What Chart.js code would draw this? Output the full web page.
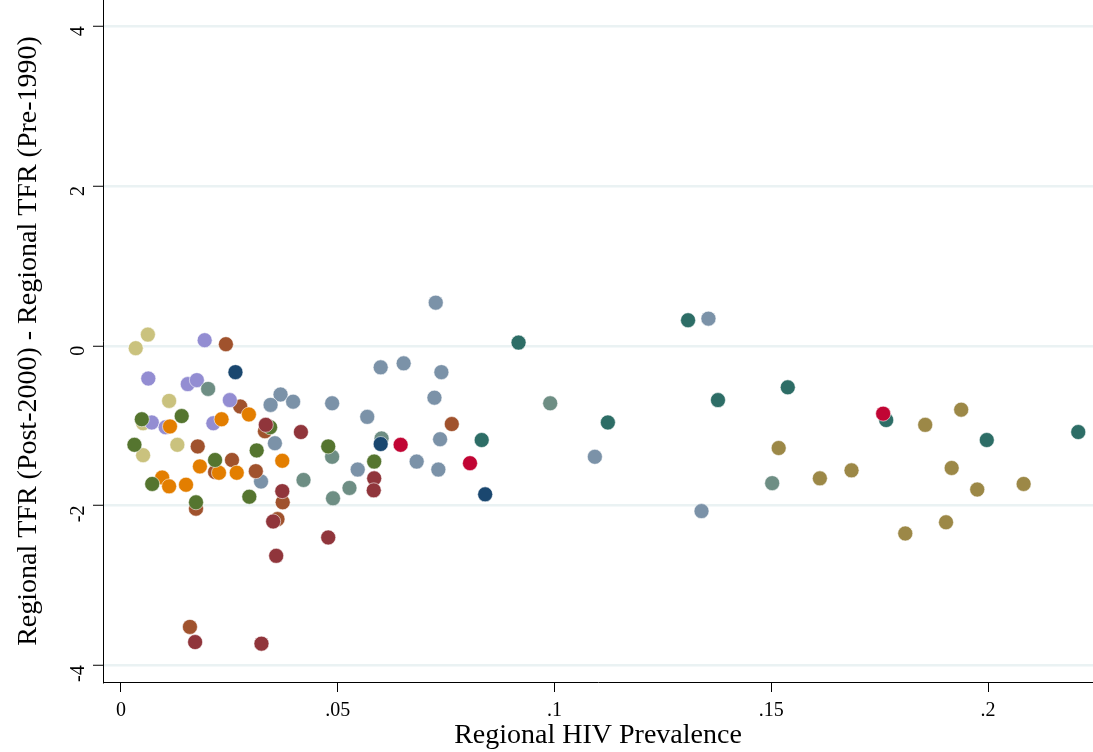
<!DOCTYPE html>
<html>
<head>
<meta charset="utf-8">
<script src="https://cdn.jsdelivr.net/npm/chart.js@4"></script>
<style>
  html, body { margin: 0; padding: 0; background: #fff; }
  #wrap { width: 1093px; height: 752px; }
</style>
</head>
<body>
<div id="wrap"><canvas id="hivChart"></canvas></div>
<script>
// tick labels
const xTicks = [0, 0.05, 0.1, 0.15, 0.2];
const xTickLabels = ['0', '.05', '.1', '.15', '.2'];
const yTicks = [-4, -2, 0, 2, 4];

// one array per country group: [HIV prevalence, TFR change]
const navy = [[0.0264, -0.33], [0.0599, -1.23], [0.0840, -1.86]];
const maroon = [[0.0334, -0.99], [0.0415, -1.08], [0.0478, -2.40], [0.0584, -1.66], [0.0583, -1.81],
  [0.0372, -1.82], [0.0351, -2.20], [0.0358, -2.63], [0.0171, -3.71], [0.0324, -3.73]];
const forestGreen = [[0.0048, -0.92], [0.0140, -0.88], [0.0344, -1.02], [0.0031, -1.24], [0.0313, -1.31],
  [0.0217, -1.43], [0.0072, -1.73], [0.0296, -1.89], [0.0173, -1.96], [0.0478, -1.26], [0.0584, -1.45]];
const dkOrange = [[0.0295, -0.86], [0.0232, -0.92], [0.0113, -1.01], [0.0372, -1.44], [0.0182, -1.51],
  [0.0226, -1.59], [0.0267, -1.59], [0.0095, -1.65], [0.0111, -1.76], [0.0150, -1.74]];
const teal = [[0.0201, -0.54], [0.0601, -1.16], [0.0487, -1.39], [0.0421, -1.68], [0.0527, -1.78],
  [0.0489, -1.91], [0.0990, -0.72], [0.1502, -1.72]];
const cranberry = [[0.0645, -1.24], [0.0805, -1.47], [0.1758, -0.85]];
const lavender = [[0.0193, 0.07], [0.0063, -0.41], [0.0154, -0.48], [0.0175, -0.43], [0.0251, -0.68],
  [0.0213, -0.97], [0.0071, -0.96], [0.0103, -1.02]];
const khaki = [[0.0062, 0.14], [0.0034, -0.03], [0.0111, -0.69], [0.0051, -0.97], [0.0130, -1.24], [0.0051, -1.37]];
const sienna = [[0.0242, 0.02], [0.0275, -0.76], [0.0763, -0.98], [0.0332, -1.07], [0.0177, -1.26],
  [0.0256, -1.43], [0.0217, -1.58], [0.0311, -1.57], [0.0373, -1.96], [0.0173, -2.04], [0.0361, -2.17],
  [0.0159, -3.52]];
const emidBlue = [[0.0726, 0.54], [0.0599, -0.27], [0.0652, -0.22], [0.0739, -0.33], [0.0368, -0.61],
  [0.0397, -0.70], [0.0345, -0.74], [0.0487, -0.72], [0.0723, -0.65], [0.0568, -0.89], [0.0355, -1.22],
  [0.0736, -1.17], [0.0682, -1.45], [0.0732, -1.55], [0.0546, -1.55], [0.0323, -1.70], [0.1093, -1.39],
  [0.1355, 0.34], [0.1339, -2.07]];
const emerald = [[0.0917, 0.04], [0.0832, -1.18], [0.1123, -0.96], [0.1308, 0.32], [0.1377, -0.68],
  [0.1538, -0.52], [0.1765, -0.93], [0.1997, -1.18], [0.2208, -1.08]];
const brown = [[0.1517, -1.28], [0.1612, -1.66], [0.1685, -1.56], [0.1809, -2.35], [0.1855, -0.99],
  [0.1903, -2.21], [0.1916, -1.53], [0.1938, -0.80], [0.1975, -1.80], [0.2082, -1.73]];

const groups = [
  [navy, '#1a476f'], [maroon, '#90353b'], [forestGreen, '#55752f'], [dkOrange, '#e37e00'],
  [teal, '#6e8e84'], [cranberry, '#c10534'], [lavender, '#938dd2'], [khaki, '#cac27e'],
  [sienna, '#a0522d'], [emidBlue, '#7b92a8'], [emerald, '#2d6d66'], [brown, '#9c8847'],
];

const serif = 'Liberation Serif';

// keep the plot region flush with the canvas edges
const noPad = (s) => { s.paddingTop = 0; s.paddingBottom = 0; s.paddingLeft = 0; s.paddingRight = 0; };

const ctx = document.getElementById('hivChart').getContext('2d');
new Chart(ctx, {
  type: 'scatter',
  data: {
    datasets: groups.map(([pts, color]) => ({
      data: pts.map(([x, y]) => ({ x, y })),
      backgroundColor: color,
      borderColor: 'rgba(255,255,255,0.7)',
      borderWidth: 0.8,
      pointRadius: 7.5,
    })),
  },
  options: {
    responsive: true,
    maintainAspectRatio: false,
    animation: false,
    layout: { padding: 0, autoPadding: false },
    plugins: { legend: { display: false }, tooltip: { enabled: false } },
    scales: {
      x: {
        type: 'linear',
        min: -0.00415,
        max: 0.2242,
        afterBuildTicks: (s) => { s.ticks = xTicks.map(v => ({ value: v })); },
        afterFit: (s) => { s.height = 70; noPad(s); },
        ticks: {
          color: '#000',
          font: { family: serif, size: 20 },
          padding: 7,
          maxRotation: 0,
          callback: (v) => xTickLabels[xTicks.indexOf(v)],
        },
        grid: { drawOnChartArea: false, tickColor: '#000', tickLength: 10, tickWidth: 1 },
        border: { color: '#000', width: 1 },
        title: {
          display: true,
          text: 'Regional HIV Prevalence',
          color: '#000',
          font: { family: serif, size: 28 },
          padding: { top: 0, bottom: 0 },
        },
      },
      y: {
        type: 'linear',
        min: -4.21,
        max: 4.33,
        afterBuildTicks: (s) => { s.ticks = yTicks.map(v => ({ value: v })); },
        afterFit: (s) => { s.width = 103; noPad(s); },
        ticks: {
          color: '#000',
          font: { family: serif, size: 20 },
          padding: 14,
          minRotation: 90,
          maxRotation: 90,
        },
        grid: { color: '#eaf2f3', lineWidth: 2.5, tickColor: '#000', tickLength: 10, tickWidth: 1 },
        border: { color: '#000', width: 1 },
        title: {
          display: true,
          text: 'Regional TFR (Post-2000) - Regional TFR (Pre-1990)',
          color: '#000',
          font: { family: serif, size: 28 },
          padding: { top: 12, bottom: 0 },
        },
      },
    },
  },
});
</script>
</body>
</html>
